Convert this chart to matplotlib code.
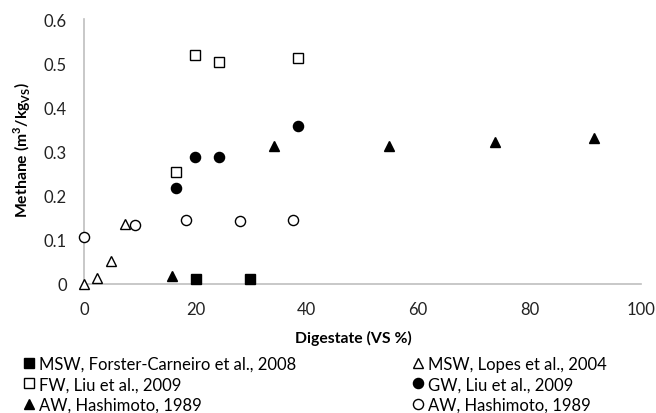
import matplotlib
matplotlib.use('Agg')
import matplotlib.pyplot as plt

plt.rcParams['font.family'] = ['Lato', 'DejaVu Sans']
plt.rcParams['mathtext.fontset'] = 'custom'
plt.rcParams['mathtext.rm'] = 'Lato'
plt.rcParams['mathtext.bf'] = 'Lato:bold'

# data
msw_fc_x = [20.2, 29.9]
msw_fc_y = [0.011, 0.011]

msw_lopes_x = [0, 2.3, 4.8, 7.4]
msw_lopes_y = [0.0, 0.013, 0.053, 0.136]

fw_x = [16.6, 20.0, 24.2, 38.4]
fw_y = [0.253, 0.518, 0.503, 0.512]

gw_x = [16.6, 20.0, 24.2, 38.4]
gw_y = [0.217, 0.288, 0.288, 0.357]

aw_tri_x = [15.8, 34.1, 54.7, 73.8, 91.5]
aw_tri_y = [0.017, 0.313, 0.313, 0.322, 0.331]

aw_circ_x = [0, 9.1, 18.4, 28.0, 37.5]
aw_circ_y = [0.106, 0.134, 0.146, 0.142, 0.146]

x_ticks = [0, 20, 40, 60, 80, 100]
y_ticks = [0, 0.1, 0.2, 0.3, 0.4, 0.5, 0.6]
y_tick_labels = ['0', '0.1', '0.2', '0.3', '0.4', '0.5', '0.6']

fig = plt.figure(figsize=(6.56, 4.14), dpi=100)
ax = fig.add_axes([0.128, 0.3116, 0.849, 0.640])

ms = 7.3
kw = dict(linestyle='none', markersize=ms, clip_on=False, zorder=3)
ax.plot(msw_fc_x, msw_fc_y, marker='s', color='black', mfc='black',
        label='MSW, Forster-Carneiro et al., 2008', **kw)
ax.plot(fw_x, fw_y, marker='s', color='black', mfc='white', mew=1.0,
        label='FW, Liu et al., 2009', **kw)
ax.plot(aw_tri_x, aw_tri_y, marker='^', color='black', mfc='black',
        label='AW, Hashimoto, 1989', **kw)
ax.plot(msw_lopes_x, msw_lopes_y, marker='^', color='black', mfc='white', mew=1.0,
        label='MSW, Lopes et al., 2004', **kw)
ax.plot(gw_x, gw_y, marker='o', color='black', mfc='black',
        label='GW, Liu et al., 2009', **kw)
ax.plot(aw_circ_x, aw_circ_y, marker='o', color='black', mfc='white', mew=1.0,
        label='AW, Hashimoto, 1989', **kw)

ax.set_xlim(0, 100)
ax.set_ylim(0, 0.6)
ax.set_xticks(x_ticks)
ax.set_yticks(y_ticks)
ax.set_yticklabels(y_tick_labels)
ax.tick_params(length=0, labelsize=12, colors='#222222')
ax.tick_params(axis='y', pad=12.3)
ax.tick_params(axis='x', pad=12.5)

# only left and bottom axis lines, light gray
for s in ['top', 'right']:
    ax.spines[s].set_visible(False)
for s in ['left', 'bottom']:
    ax.spines[s].set_color('#bfbfbf')
    ax.spines[s].set_linewidth(1.2)

ax.set_xlabel('Digestate (VS %)', fontsize=11.3, fontweight='bold')
ax.set_ylabel(r'Methane (m$^{\mathbf{3}}$/kg$_{\mathbf{VS}}$)', fontsize=11.3,
              fontweight='bold')
ax.xaxis.set_label_coords(0.484, -0.172)
ax.yaxis.set_label_coords(-0.0914, 0.509)

# legend under the plot, two columns
fig.legend(loc='upper left', bbox_to_anchor=(0.027, 0.1543), borderaxespad=0,
           ncol=2, frameon=False, fontsize=12.0, handlelength=0.6,
           handletextpad=0.3, columnspacing=7.0, labelspacing=0.27,
           markerscale=1.0)

fig.savefig('out.png', dpi=100)
